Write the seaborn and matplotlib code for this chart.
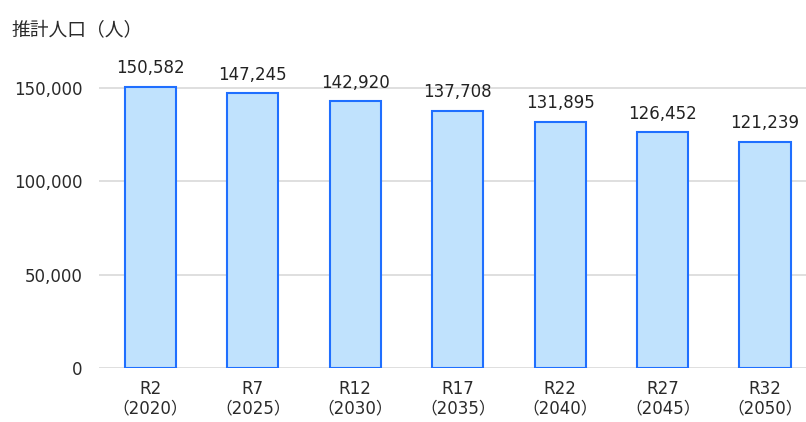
import matplotlib
matplotlib.use("Agg")
import matplotlib.pyplot as plt
import seaborn as sns
import pandas as pd

# data
categories = ["R2\n（2020）", "R7\n（2025）", "R12\n（2030）", "R17\n（2035）",
              "R22\n（2040）", "R27\n（2045）", "R32\n（2050）"]
population = [150582, 147245, 142920, 137708, 131895, 126452, 121239]

sns.set_style("white")
plt.rcParams['font.family'] = ['DejaVu Sans', 'Noto Sans CJK JP']

df = pd.DataFrame({"year": categories, "pop": population})

fig = plt.figure(figsize=(8.06, 4.22), dpi=100)
ax = fig.add_axes([0.123, 0.128, 0.877, 0.708])

sns.barplot(data=df, x="year", y="pop", color="#c0e2fd", edgecolor="#1f6fff",
            linewidth=1.5, width=0.5, saturation=1, ax=ax)

ax.set_ylim(0, 160000)
ax.set_xlim(-0.5, 6.4)
ax.set_yticks([0, 50000, 100000, 150000])
ax.set_yticklabels([f"{v:,}" for v in [0, 50000, 100000, 150000]])
ax.yaxis.grid(True, color="#d9d9d9", linewidth=1.2)
ax.set_axisbelow(True)
for s in ax.spines.values():
    s.set_visible(False)
ax.tick_params(axis="both", length=0, labelsize=12, colors="#2a2a2a", pad=12)
ax.tick_params(axis="x", pad=9)
for lbl in ax.get_xticklabels():
    lbl.set_linespacing(1.05)
ax.set_xlabel("")
ax.set_ylabel("")

# value labels above bars
for i, v in enumerate(population):
    ax.text(i, v + 5000, f"{v:,}", ha="center", va="bottom", fontsize=12, color="#222222")

fig.text(0.014, 0.93, "推計人口（人）", fontsize=13.5, color="#2a2a2a", ha="left", va="center",
         family=['Noto Sans CJK JP', 'DejaVu Sans'])

fig.savefig("out.png", dpi=100)
